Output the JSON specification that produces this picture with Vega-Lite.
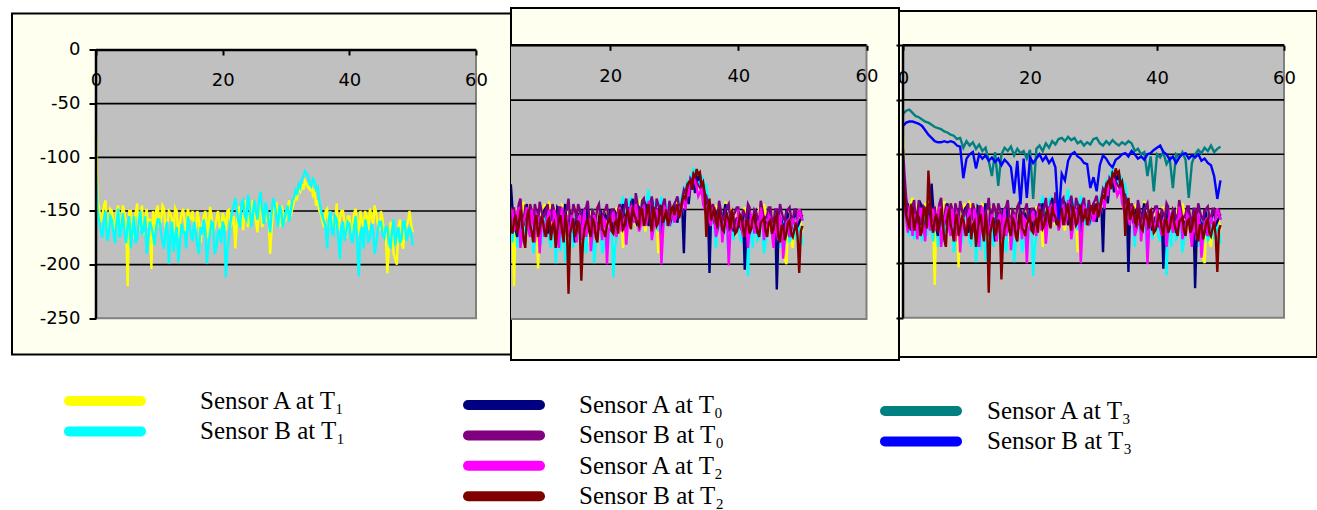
{
"$schema": "https://vega.github.io/schema/vega-lite/v6.json",
"background": "white",
"padding": {"left": 11, "top": 7, "right": 0, "bottom": 0},
"spacing": 0,
"bounds": "flush",
"center": true,
"config": {
  "view": {"fill": "#FFFFF0", "stroke": "black", "strokeWidth": 2},
  "axis": {"labelFont": "DejaVu Sans", "labelFontSize": 18, "labelColor": "black", "tickColor": "black", "tickWidth": 2, "domain": false, "grid": false, "labelFlush": false, "labelOverlap": false},
  "legend": {"symbolType": "stroke", "symbolSize": 5184, "symbolStrokeWidth": 10, "clipHeight": 24, "rowPadding": 5.4, "labelFont": "Liberation Serif", "labelFontSize": 25, "labelColor": "black", "labelLimit": 600, "padding": 0}
},
"datasets": {
  "grid": [{"g": -50}, {"g": -100}, {"g": -150}, {"g": -200}],
  "sig": [
{"x":0,"a1":-82,"b1":-116,"a0":-140,"b0":-95,"a2":-130,"b2":-125,"a3":-63,"b3":-74},
{"x":0.25,"a1":-140,"b1":-150,"a0":-152,"b0":-120,"a2":-150,"b2":-140},
{"x":0.5,"a1":-148,"b1":-160,"a0":-150,"b0":-140,"a2":-160,"b2":-155,"a3":-60,"b3":-71},
{"x":0.75,"a1":-160,"b1":-168,"a0":-145,"b0":-150,"a2":-172,"b2":-162},
{"x":1,"a1":-155,"b1":-175,"a0":-162,"b0":-155,"a2":-148,"b2":-168,"a3":-59,"b3":-70},
{"x":1.25,"a1":-145,"b1":-158,"a0":-170,"b0":-160,"a2":-155,"b2":-148},
{"x":1.5,"a1":-140,"b1":-150,"a0":-145,"b0":-148,"a2":-175,"b2":-150,"a3":-62,"b3":-70},
{"x":1.75,"a1":-165,"b1":-178,"a0":-150,"b0":-142,"a2":-160,"b2":-170},
{"x":2,"a1":-162,"b1":-172,"a0":-170,"b0":-160,"a2":-155,"b2":-162,"a3":-65,"b3":-71},
{"x":2.25,"a1":-148,"b1":-155,"a0":-162,"b0":-155,"a2":-178,"b2":-155},
{"x":2.5,"a1":-150,"b1":-158,"a0":-155,"b0":-142,"a2":-165,"b2":-158,"a3":-66,"b3":-72},
{"x":2.75,"a1":-160,"b1":-170,"a0":-145,"b0":-165,"a2":-150,"b2":-175},
{"x":3,"a1":-168,"b1":-180,"a0":-148,"b0":-158,"a2":-150,"b2":-170,"a3":-68,"b3":-74},
{"x":3.25,"a1":-150,"b1":-160,"a0":-172,"b0":-148,"a2":-168,"b2":-150},
{"x":3.5,"a1":-145,"b1":-148,"a0":-165,"b0":-150,"a2":-180,"b2":-152,"a3":-70,"b3":-78},
{"x":3.75,"a1":-170,"b1":-175,"a0":-150,"b0":-160,"a2":-155,"b2":-168},
{"x":4,"a1":-158,"b1":-165,"a0":-152,"b0":-145,"a2":-158,"b2":-115,"a3":-71,"b3":-82},
{"x":4.25,"a1":-145,"b1":-152,"a0":-160,"b0":-150,"a2":-170,"b2":-140},
{"x":4.5,"a1":-152,"b1":-170,"a0":-127,"b0":-162,"a2":-162,"b2":-165,"a3":-73,"b3":-85},
{"x":4.75,"a1":-162,"b1":-180,"a0":-148,"b0":-155,"a2":-150,"b2":-172},
{"x":5,"a1":-220,"b1":-162,"a0":-160,"b0":-148,"a2":-170,"b2":-160,"a3":-75,"b3":-88},
{"x":5.25,"a1":-150,"b1":-155,"a0":-168,"b0":-162,"a2":-165,"b2":-155},
{"x":5.5,"a1":-150,"b1":-185,"a0":-175,"b0":-155,"a2":-152,"b2":-172,"a3":-76,"b3":-89},
{"x":5.75,"a1":-175,"b1":-168,"a0":-155,"b0":-145,"a2":-148,"b2":-165},
{"x":6,"a1":-165,"b1":-155,"a0":-150,"b0":-140,"a2":-185,"b2":-150,"a3":-77,"b3":-89},
{"x":6.25,"a1":-152,"b1":-180,"a0":-165,"b0":-158,"a2":-172,"b2":-160},
{"x":6.5,"a1":-143,"b1":-176,"a0":-163,"b0":-165,"a2":-160,"b2":-178,"a3":-79,"b3":-88},
{"x":6.75,"a1":-168,"b1":-160,"a0":-150,"b0":-148,"a2":-155,"b2":-185},
{"x":7,"a1":-160,"b1":-150,"a0":-145,"b0":-150,"a2":-148,"b2":-158,"a3":-80,"b3":-89},
{"x":7.25,"a1":-145,"b1":-172,"a0":-162,"b0":-160,"a2":-168,"b2":-150},
{"x":7.5,"a1":-172,"b1":-168,"a0":-170,"b0":-145,"a2":-175,"b2":-165,"a3":-82,"b3":-88},
{"x":7.75,"a1":-158,"b1":-155,"a0":-152,"b0":-150,"a2":-150,"b2":-170},
{"x":8,"a1":-148,"b1":-190,"a0":-158,"b0":-160,"a2":-162,"b2":-180,"a3":-83,"b3":-89},
{"x":8.25,"a1":-165,"b1":-178,"a0":-170,"b0":-145,"a2":-180,"b2":-160},
{"x":8.5,"a1":-157,"b1":-160,"a0":-150,"b0":-152,"a2":-155,"b2":-155,"a3":-86,"b3":-92},
{"x":8.75,"a1":-204,"b1":-165,"a0":-155,"b0":-162,"a2":-158,"b2":-175},
{"x":9,"a1":-150,"b1":-172,"a0":-168,"b0":-143,"a2":-190,"b2":-168,"a3":-85,"b3":-93},
{"x":9.25,"a1":-170,"b1":-182,"a0":-160,"b0":-150,"a2":-165,"b2":-158},
{"x":9.5,"a1":-150,"b1":-165,"a0":-155,"b0":-158,"a2":-158,"b2":-160,"a3":-94,"b3":-122},
{"x":9.75,"a1":-145,"b1":-158,"a0":-150,"b0":-155,"a2":-175,"b2":-170},
{"x":10,"a1":-162,"b1":-158,"a0":-148,"b0":-150,"a2":-165,"b2":-175,"a3":-88,"b3":-104},
{"x":10.25,"a1":-160,"b1":-170,"a0":-172,"b0":-145,"a2":-155,"b2":-160},
{"x":10.5,"a1":-145,"b1":-178,"a0":-165,"b0":-162,"a2":-150,"b2":-158,"a3":-92,"b3":-100},
{"x":10.75,"a1":-148,"b1":-185,"a0":-150,"b0":-158,"a2":-168,"b2":-178},
{"x":11,"a1":-170,"b1":-166,"a0":-160,"b0":-145,"a2":-172,"b2":-165,"a3":-89,"b3":-98},
{"x":11.25,"a1":-165,"b1":-160,"a0":-160,"b0":-150,"a2":-150,"b2":-162},
{"x":11.5,"a1":-150,"b1":-199,"a0":-172,"b0":-155,"a2":-158,"b2":-185,"a3":-95,"b3":-113},
{"x":11.75,"a1":-152,"b1":-175,"a0":-148,"b0":-165,"a2":-172,"b2":-170},
{"x":12,"a1":-158,"b1":-160,"a0":-150,"b0":-148,"a2":-185,"b2":-160,"a3":-91,"b3":-100},
{"x":12.25,"a1":-170,"b1":-188,"a0":-165,"b0":-148,"a2":-160,"b2":-155},
{"x":12.5,"a1":-147,"b1":-175,"a0":-158,"b0":-168,"a2":-148,"b2":-170,"a3":-97,"b3":-104},
{"x":12.75,"a1":-150,"b1":-165,"a0":-155,"b0":-160,"a2":-175,"b2":-180},
{"x":13,"a1":-175,"b1":-198,"a0":-145,"b0":-152,"a2":-162,"b2":-155,"a3":-94,"b3":-101},
{"x":13.25,"a1":-162,"b1":-180,"a0":-170,"b0":-150,"a2":-155,"b2":-165},
{"x":13.5,"a1":-153,"b1":-162,"a0":-168,"b0":-140,"a2":-175,"b2":-227,"a3":-106,"b3":-106},
{"x":13.75,"a1":-148,"b1":-170,"a0":-150,"b0":-158,"a2":-168,"b2":-172},
{"x":14,"a1":-160,"b1":-170,"a0":-162,"b0":-160,"a2":-155,"b2":-165,"a3":-120,"b3":-103},
{"x":14.25,"a1":-170,"b1":-185,"a0":-165,"b0":-145,"a2":-160,"b2":-158},
{"x":14.5,"a1":-148,"b1":-155,"a0":-180,"b0":-150,"a2":-168,"b2":-175,"a3":-98,"b3":-107},
{"x":14.75,"a1":-155,"b1":-165,"a0":-158,"b0":-160,"a2":-180,"b2":-170},
{"x":15,"a1":-157,"b1":-172,"a0":-153,"b0":-145,"a2":-160,"b2":-160,"a3":-129,"b3":-104},
{"x":15.25,"a1":-150,"b1":-178,"a0":-172,"b0":-150,"a2":-155,"b2":-165},
{"x":15.5,"a1":-165,"b1":-160,"a0":-160,"b0":-158,"a2":-178,"b2":-215,"a3":-100,"b3":-110},
{"x":15.75,"a1":-168,"b1":-170,"a0":-150,"b0":-162,"a2":-165,"b2":-180},
{"x":16,"a1":-150,"b1":-183,"a0":-170,"b0":-150,"a2":-150,"b2":-168,"a3":-94,"b3":-105},
{"x":16.25,"a1":-158,"b1":-190,"a0":-160,"b0":-148,"a2":-175,"b2":-162},
{"x":16.5,"a1":-180,"b1":-165,"a0":-148,"b0":-142,"a2":-165,"b2":-158,"a3":-97,"b3":-108},
{"x":16.75,"a1":-165,"b1":-172,"a0":-170,"b0":-158,"a2":-158,"b2":-170},
{"x":17,"a1":-155,"b1":-158,"a0":-165,"b0":-165,"a2":-188,"b2":-175,"a3":-93,"b3":-112},
{"x":17.25,"a1":-150,"b1":-168,"a0":-152,"b0":-150,"a2":-172,"b2":-158},
{"x":17.5,"a1":-162,"b1":-199,"a0":-155,"b0":-155,"a2":-155,"b2":-162,"a3":-101,"b3":-136},
{"x":17.75,"a1":-175,"b1":-182,"a0":-165,"b0":-160,"a2":-160,"b2":-175},
{"x":18,"a1":-146,"b1":-170,"a0":-175,"b0":-148,"a2":-170,"b2":-180,"a3":-95,"b3":-106},
{"x":18.25,"a1":-155,"b1":-160,"a0":-158,"b0":-145,"a2":-168,"b2":-162},
{"x":18.5,"a1":-170,"b1":-162,"a0":-150,"b0":-160,"a2":-162,"b2":-155,"a3":-99,"b3":-146},
{"x":18.75,"a1":-165,"b1":-190,"a0":-170,"b0":-158,"a2":-178,"b2":-168},
{"x":19,"a1":-158,"b1":-185,"a0":-162,"b0":-152,"a2":-158,"b2":-170,"a3":-97,"b3":-104},
{"x":19.25,"a1":-150,"b1":-170,"a0":-155,"b0":-150,"a2":-160,"b2":-175},
{"x":19.5,"a1":-163,"b1":-168,"a0":-158,"b0":-145,"a2":-200,"b2":-165,"a3":-104,"b3":-140},
{"x":19.75,"a1":-172,"b1":-180,"a0":-162,"b0":-162,"a2":-170,"b2":-160},
{"x":20,"a1":-152,"b1":-160,"a0":-150,"b0":-158,"a2":-165,"b2":-158,"a3":-96,"b3":-103},
{"x":20.25,"a1":-158,"b1":-165,"a0":-170,"b0":-150,"a2":-158,"b2":-170},
{"x":20.5,"a1":-168,"b1":-212,"a0":-165,"b0":-150,"a2":-152,"b2":-172,"a3":-141,"b3":-108},
{"x":20.75,"a1":-150,"b1":-185,"a0":-152,"b0":-158,"a2":-168,"b2":-162},
{"x":21,"a1":-149,"b1":-175,"a0":-155,"b0":-165,"a2":-175,"b2":-160,"a3":-95,"b3":-104},
{"x":21.25,"a1":-165,"b1":-160,"a0":-162,"b0":-150,"a2":-155,"b2":-172},
{"x":21.5,"a1":-160,"b1":-150,"a0":-160,"b0":-145,"a2":-148,"b2":-150,"a3":-92,"b3":-100},
{"x":21.75,"a1":-155,"b1":-145,"a0":-150,"b0":-160,"a2":-170,"b2":-158},
{"x":22,"a1":-185,"b1":-138,"a0":-145,"b0":-155,"a2":-160,"b2":-168,"a3":-97,"b3":-106},
{"x":22.25,"a1":-160,"b1":-150,"a0":-165,"b0":-148,"a2":-158,"b2":-165},
{"x":22.5,"a1":-146,"b1":-160,"a0":-170,"b0":-140,"a2":-182,"b2":-155,"a3":-90,"b3":-102},
{"x":22.75,"a1":-150,"b1":-165,"a0":-148,"b0":-155,"a2":-165,"b2":-150},
{"x":23,"a1":-155,"b1":-142,"a0":-152,"b0":-160,"a2":-150,"b2":-162,"a3":-94,"b3":-108},
{"x":23.25,"a1":-168,"b1":-140,"a0":-160,"b0":-145,"a2":-148,"b2":-168},
{"x":23.5,"a1":-140,"b1":-155,"a0":-140,"b0":-148,"a2":-158,"b2":-148,"a3":-88,"b3":-104},
{"x":23.75,"a1":-148,"b1":-158,"a0":-150,"b0":-158,"a2":-162,"b2":-155},
{"x":24,"a1":-165,"b1":-135,"a0":-160,"b0":-135,"a2":-145,"b2":-158,"a3":-91,"b3":-112},
{"x":24.25,"a1":-155,"b1":-145,"a0":-165,"b0":-145,"a2":-155,"b2":-162},
{"x":24.5,"a1":-150,"b1":-165,"a0":-148,"b0":-152,"a2":-170,"b2":-165,"a3":-86,"b3":-160},
{"x":24.75,"a1":-140,"b1":-155,"a0":-150,"b0":-155,"a2":-165,"b2":-150},
{"x":25,"a1":-145,"b1":-140,"a0":-152,"b0":-142,"a2":-150,"b2":-150,"a3":-85,"b3":-118},
{"x":25.25,"a1":-160,"b1":-150,"a0":-158,"b0":-140,"a2":-148,"b2":-165},
{"x":25.5,"a1":-170,"b1":-158,"a0":-145,"b0":-155,"a2":-165,"b2":-160,"a3":-88,"b3":-124},
{"x":25.75,"a1":-150,"b1":-140,"a0":-148,"b0":-158,"a2":-160,"b2":-152},
{"x":26,"a1":-138,"b1":-132,"a0":-165,"b0":-148,"a2":-142,"b2":-145,"a3":-84,"b3":-106},
{"x":26.25,"a1":-165,"b1":-150,"a0":-160,"b0":-145,"a2":-152,"b2":-160},
{"x":26.5,"a1":-155,"b1":-162,"a0":-140,"b0":-138,"a2":-178,"b2":-170,"a3":-87,"b3":-100},
{"x":26.75,"a1":-145,"b1":-142,"a0":-150,"b0":-152,"a2":-168,"b2":-148},
{"x":27,"a1":-160,"b1":-148,"a0":-158,"b0":-160,"a2":-155,"b2":-155,"a3":-85,"b3":-98},
{"x":27.25,"a1":-155,"b1":-160,"a0":-165,"b0":-140,"a2":-150,"b2":-165},
{"x":27.5,"a1":-190,"b1":-170,"a0":-150,"b0":-145,"a2":-160,"b2":-162,"a3":-90,"b3":-102},
{"x":27.75,"a1":-165,"b1":-150,"a0":-148,"b0":-150,"a2":-158,"b2":-150},
{"x":28,"a1":-148,"b1":-138,"a0":-172,"b0":-152,"a2":-200,"b2":-148,"a3":-88,"b3":-104},
{"x":28.25,"a1":-150,"b1":-145,"a0":-160,"b0":-145,"a2":-170,"b2":-162},
{"x":28.5,"a1":-142,"b1":-155,"a0":-148,"b0":-140,"a2":-148,"b2":-158,"a3":-92,"b3":-108},
{"x":28.75,"a1":-158,"b1":-165,"a0":-152,"b0":-155,"a2":-150,"b2":-150},
{"x":29,"a1":-165,"b1":-145,"a0":-155,"b0":-158,"a2":-160,"b2":-165,"a3":-89,"b3":-109},
{"x":29.25,"a1":-145,"b1":-150,"a0":-165,"b0":-142,"a2":-165,"b2":-160},
{"x":29.5,"a1":-150,"b1":-165,"a0":-160,"b0":-150,"a2":-155,"b2":-150,"a3":-91,"b3":-131},
{"x":29.75,"a1":-160,"b1":-158,"a0":-150,"b0":-152,"a2":-150,"b2":-148},
{"x":30,"a1":-158,"b1":-150,"a0":-145,"b0":-145,"a2":-162,"b2":-155,"a3":-86,"b3":-121},
{"x":30.25,"a1":-148,"b1":-145,"a0":-158,"b0":-142,"a2":-158,"b2":-150},
{"x":30.5,"a1":-140,"b1":-160,"a0":-162,"b0":-138,"a2":-145,"b2":-145,"a3":-85,"b3":-134},
{"x":30.75,"a1":-155,"b1":-150,"a0":-145,"b0":-148,"a2":-150,"b2":-158},
{"x":31,"a1":-148,"b1":-140,"a0":-150,"b0":-150,"a2":-155,"b2":-152,"a3":-90,"b3":-110},
{"x":31.25,"a1":-142,"b1":-138,"a0":-150,"b0":-140,"a2":-145,"b2":-142},
{"x":31.5,"a1":-135,"b1":-131,"a0":-190,"b0":-132,"a2":-138,"b2":-138,"a3":-92,"b3":-101},
{"x":31.75,"a1":-138,"b1":-135,"a0":-140,"b0":-135,"a2":-150,"b2":-140},
{"x":32,"a1":-130,"b1":-125,"a0":-138,"b0":-128,"a2":-132,"b2":-130,"a3":-88,"b3":-104},
{"x":32.25,"a1":-132,"b1":-128,"a0":-145,"b0":-130,"a2":-138,"b2":-125},
{"x":32.5,"a1":-125,"b1":-120,"a0":-130,"b0":-122,"a2":-125,"b2":-124,"a3":-91,"b3":-109},
{"x":32.75,"a1":-130,"b1":-118,"a0":-128,"b0":-125,"a2":-128,"b2":-132},
{"x":33,"a1":-122,"b1":-113,"a0":-125,"b0":-118,"a2":-120,"b2":-118,"a3":-87,"b3":-112},
{"x":33.25,"a1":-125,"b1":-115,"a0":-135,"b0":-122,"a2":-125,"b2":-120},
{"x":33.5,"a1":-128,"b1":-118,"a0":-120,"b0":-125,"a2":-130,"b2":-113,"a3":-90,"b3":-105},
{"x":33.75,"a1":-130,"b1":-125,"a0":-122,"b0":-128,"a2":-138,"b2":-118},
{"x":34,"a1":-124,"b1":-127,"a0":-118,"b0":-130,"a2":-135,"b2":-116,"a3":-92,"b3":-103},
{"x":34.25,"a1":-135,"b1":-120,"a0":-130,"b0":-132,"a2":-130,"b2":-128},
{"x":34.5,"a1":-132,"b1":-122,"a0":-128,"b0":-128,"a2":-145,"b2":-125,"a3":-89,"b3":-100},
{"x":34.75,"a1":-145,"b1":-130,"a0":-138,"b0":-140,"a2":-150,"b2":-135},
{"x":35,"a1":-140,"b1":-128,"a0":-140,"b0":-138,"a2":-155,"b2":-175,"a3":-91,"b3":-99},
{"x":35.25,"a1":-150,"b1":-140,"a0":-148,"b0":-145,"a2":-145,"b2":-150},
{"x":35.5,"a1":-152,"b1":-149,"a0":-208,"b0":-150,"a2":-160,"b2":-140,"a3":-88,"b3":-102},
{"x":35.75,"a1":-160,"b1":-155,"a0":-155,"b0":-152,"a2":-165,"b2":-160},
{"x":36,"a1":-165,"b1":-160,"a0":-150,"b0":-145,"a2":-148,"b2":-155,"a3":-90,"b3":-97},
{"x":36.25,"a1":-150,"b1":-165,"a0":-162,"b0":-150,"a2":-158,"b2":-148},
{"x":36.5,"a1":-148,"b1":-185,"a0":-165,"b0":-158,"a2":-175,"b2":-162,"a3":-97,"b3":-100},
{"x":36.75,"a1":-165,"b1":-158,"a0":-150,"b0":-160,"a2":-170,"b2":-165},
{"x":37,"a1":-160,"b1":-150,"a0":-155,"b0":-142,"a2":-162,"b2":-150,"a3":-95,"b3":-104},
{"x":37.25,"a1":-155,"b1":-170,"a0":-165,"b0":-150,"a2":-155,"b2":-158},
{"x":37.5,"a1":-170,"b1":-172,"a0":-160,"b0":-160,"a2":-180,"b2":-168,"a3":-100,"b3":-102},
{"x":37.75,"a1":-160,"b1":-155,"a0":-152,"b0":-158,"a2":-165,"b2":-170},
{"x":38,"a1":-143,"b1":-158,"a0":-145,"b0":-150,"a2":-158,"b2":-158,"a3":-98,"b3":-105},
{"x":38.25,"a1":-168,"b1":-175,"a0":-165,"b0":-148,"a2":-158,"b2":-155},
{"x":38.5,"a1":-158,"b1":-195,"a0":-170,"b0":-145,"a2":-201,"b2":-160,"a3":-120,"b3":-100},
{"x":38.75,"a1":-150,"b1":-165,"a0":-155,"b0":-160,"a2":-170,"b2":-168},
{"x":39,"a1":-150,"b1":-160,"a0":-152,"b0":-165,"a2":-165,"b2":-150,"a3":-102,"b3":-99},
{"x":39.25,"a1":-162,"b1":-178,"a0":-170,"b0":-155,"a2":-155,"b2":-160},
{"x":39.5,"a1":-175,"b1":-170,"a0":-162,"b0":-152,"a2":-170,"b2":-172,"a3":-134,"b3":-96},
{"x":39.75,"a1":-155,"b1":-160,"a0":-158,"b0":-148,"a2":-168,"b2":-170},
{"x":40,"a1":-155,"b1":-162,"a0":-158,"b0":-148,"a2":-150,"b2":-165,"a3":-100,"b3":-94},
{"x":40.25,"a1":-170,"b1":-175,"a0":-165,"b0":-160,"a2":-158,"b2":-155},
{"x":40.5,"a1":-165,"b1":-180,"a0":-168,"b0":-160,"a2":-168,"b2":-158,"a3":-103,"b3":-92},
{"x":40.75,"a1":-152,"b1":-165,"a0":-155,"b0":-150,"a2":-175,"b2":-168},
{"x":41,"a1":-148,"b1":-155,"a0":-205,"b0":-155,"a2":-160,"b2":-175,"a3":-98,"b3":-98},
{"x":41.25,"a1":-160,"b1":-180,"a0":-170,"b0":-158,"a2":-160,"b2":-160},
{"x":41.5,"a1":-172,"b1":-211,"a0":-150,"b0":-145,"a2":-185,"b2":-160,"a3":-109,"b3":-100},
{"x":41.75,"a1":-150,"b1":-170,"a0":-158,"b0":-148,"a2":-170,"b2":-172},
{"x":42,"a1":-160,"b1":-165,"a0":-162,"b0":-165,"a2":-155,"b2":-168,"a3":-104,"b3":-105},
{"x":42.25,"a1":-165,"b1":-185,"a0":-165,"b0":-160,"a2":-158,"b2":-158},
{"x":42.5,"a1":-150,"b1":-158,"a0":-155,"b0":-150,"a2":-172,"b2":-155,"a3":-131,"b3":-102},
{"x":42.75,"a1":-155,"b1":-165,"a0":-152,"b0":-152,"a2":-165,"b2":-165},
{"x":43,"a1":-168,"b1":-178,"a0":-172,"b0":-158,"a2":-162,"b2":-170,"a3":-100,"b3":-108},
{"x":43.25,"a1":-148,"b1":-175,"a0":-168,"b0":-160,"a2":-172,"b2":-175},
{"x":43.5,"a1":-155,"b1":-162,"a0":-148,"b0":-142,"a2":-148,"b2":-162,"a3":-103,"b3":-103},
{"x":43.75,"a1":-162,"b1":-168,"a0":-155,"b0":-150,"a2":-158,"b2":-160},
{"x":44,"a1":-145,"b1":-190,"a0":-160,"b0":-160,"a2":-178,"b2":-158,"a3":-98,"b3":-100},
{"x":44.25,"a1":-152,"b1":-180,"a0":-162,"b0":-158,"a2":-168,"b2":-170},
{"x":44.5,"a1":-162,"b1":-168,"a0":-165,"b0":-155,"a2":-165,"b2":-175,"a3":-105,"b3":-99},
{"x":44.75,"a1":-168,"b1":-160,"a0":-150,"b0":-148,"a2":-155,"b2":-162},
{"x":45,"a1":-150,"b1":-160,"a0":-152,"b0":-148,"a2":-158,"b2":-160,"a3":-140,"b3":-104},
{"x":45.25,"a1":-158,"b1":-172,"a0":-168,"b0":-160,"a2":-172,"b2":-172},
{"x":45.5,"a1":-175,"b1":-175,"a0":-170,"b0":-162,"a2":-185,"b2":-168,"a3":-108,"b3":-101},
{"x":45.75,"a1":-170,"b1":-165,"a0":-158,"b0":-150,"a2":-160,"b2":-158},
{"x":46,"a1":-208,"b1":-165,"a0":-223,"b0":-150,"a2":-170,"b2":-155,"a3":-100,"b3":-103},
{"x":46.25,"a1":-185,"b1":-178,"a0":-175,"b0":-162,"a2":-178,"b2":-175},
{"x":46.5,"a1":-160,"b1":-185,"a0":-158,"b0":-145,"a2":-155,"b2":-180,"a3":-96,"b3":-100},
{"x":46.75,"a1":-172,"b1":-168,"a0":-160,"b0":-152,"a2":-165,"b2":-165},
{"x":47,"a1":-190,"b1":-158,"a0":-165,"b0":-158,"a2":-195,"b2":-165,"a3":-99,"b3":-106},
{"x":47.25,"a1":-195,"b1":-182,"a0":-170,"b0":-160,"a2":-175,"b2":-178},
{"x":47.5,"a1":-200,"b1":-172,"a0":-150,"b0":-152,"a2":-162,"b2":-172,"a3":-94,"b3":-104},
{"x":47.75,"a1":-165,"b1":-165,"a0":-155,"b0":-150,"a2":-160,"b2":-162},
{"x":48,"a1":-158,"b1":-180,"a0":-175,"b0":-148,"a2":-175,"b2":-160,"a3":-97,"b3":-108},
{"x":48.25,"a1":-180,"b1":-175,"a0":-168,"b0":-158,"a2":-168,"b2":-172},
{"x":48.5,"a1":-185,"b1":-160,"a0":-160,"b0":-160,"a2":-158,"b2":-175,"a3":-92,"b3":-110},
{"x":48.75,"a1":-168,"b1":-160,"a0":-155,"b0":-150,"a2":-162,"b2":-168},
{"x":49,"a1":-165,"b1":-178,"a0":-152,"b0":-150,"a2":-165,"b2":-162,"a3":-98,"b3":-120},
{"x":49.25,"a1":-160,"b1":-172,"a0":-165,"b0":-158,"a2":-158,"b2":-175},
{"x":49.5,"a1":-150,"b1":-165,"a0":-162,"b0":-155,"a2":-150,"b2":-208,"a3":-95,"b3":-141},
{"x":49.75,"a1":-162,"b1":-170,"a0":-158,"b0":-152,"a2":-155,"b2":-170},
{"x":50,"a1":-170,"b1":-182,"a0":-155,"b0":-160,"a2":-160,"b2":-165,"a3":-93,"b3":-124}
  ]
},
"resolve": {"scale": {"x": "independent", "y": "independent", "color": "independent"}, "legend": {"color": "independent"}, "axis": {"x": "independent", "y": "independent"}},
"hconcat": [
  {
    "width": 499, "height": 341,
    "layer": [
      {"data": {"values": [{}]}, "mark": {"type": "rect", "fill": "#C0C0C0", "stroke": "#808080", "strokeWidth": 2, "clip": true},
       "encoding": {"x": {"datum": 0, "type": "quantitative"}, "x2": {"datum": 60}, "y": {"datum": 0, "type": "quantitative"}, "y2": {"datum": -250}}},
      {"data": {"name": "grid"}, "mark": {"type": "rule", "color": "black", "strokeWidth": 1.7, "clip": true},
       "encoding": {"x": {"datum": 0, "type": "quantitative"}, "x2": {"datum": 60}, "y": {"field": "g", "type": "quantitative"}}},
      {"data": {"name": "sig"}, "transform": [{"fold": ["a1", "b1"], "as": ["series", "v"]}, {"filter": {"field": "v", "valid": true}}],
       "mark": {"type": "line", "strokeWidth": 2.4, "clip": true},
       "encoding": {
         "x": {"field": "x", "type": "quantitative", "scale": {"domain": [-13.263, 65.526], "nice": false, "zero": false},
               "axis": {"orient": "top", "offset": -36.5, "values": [0, 20, 40, 60], "tickSize": -5, "labelBaseline": "top", "labelPadding": -16.6, "labelExpr": "'' + datum.value", "title": null, "zindex": 1}},
         "y": {"field": "v", "type": "quantitative", "scale": {"domain": [-283.73, 34.01], "nice": false, "zero": false},
               "axis": {"orient": "left", "offset": -84, "values": [0, -50, -100, -150, -200, -250], "tickSize": 7, "labelPadding": 9, "labelExpr": "'' + datum.value", "title": null, "zindex": 1}},
         "color": {"field": "series", "type": "nominal",
                   "scale": {"domain": ["a1", "b1", "a0", "b0", "a2", "b2", "a3", "b3"], "range": ["#FFFF00", "#00FFFF", "#000080", "#800080", "#FF00FF", "#800000", "#008080", "#0000FF"]},
                   "legend": {"orient": "none", "legendX": 52, "legendY": 375.5, "values": ["a1", "b1"], "title": null, "labelOffset": 54, "labelFont": "Liberation Serif", "labelFontSize": 25,
                              "labelExpr": "datum.value == 'a1' ? 'Sensor A at T₁' : datum.value == 'b1' ? 'Sensor B at T₁' : datum.value == 'a0' ? 'Sensor A at T₀' : datum.value == 'b0' ? 'Sensor B at T₀' : datum.value == 'a2' ? 'Sensor A at T₂' : datum.value == 'b2' ? 'Sensor B at T₂' : datum.value == 'a3' ? 'Sensor A at T₃' : 'Sensor B at T₃'",
                              "encode": {"symbols": {"update": {"strokeCap": {"value": "round"}, "stroke": {"signal": "datum.value == 'a1' ? '#FFFF00' : datum.value == 'b1' ? '#66FFFF' : datum.value == 'a0' ? '#000080' : datum.value == 'b0' ? '#800080' : datum.value == 'a2' ? '#FF00FF' : datum.value == 'b2' ? '#800000' : datum.value == 'a3' ? '#339966' : '#0000FF'"}}}}}}}},
      {"data": {"values": [{}]}, "mark": {"type": "rule", "color": "black", "strokeWidth": 2.5, "clip": true},
       "encoding": {"x": {"datum": 0, "type": "quantitative"}, "x2": {"datum": 60}, "y": {"datum": 0, "type": "quantitative"}}},
      {"data": {"values": [{}]}, "mark": {"type": "rule", "color": "black", "strokeWidth": 2.5, "clip": true},
       "encoding": {"x": {"datum": 0, "type": "quantitative"}, "y": {"datum": 0, "type": "quantitative"}, "y2": {"datum": -250}}}
    ]
  },
  {
    "width": 388, "height": 352,
    "layer": [
      {"data": {"values": [{}]}, "mark": {"type": "rect", "fill": "#C0C0C0", "stroke": "#808080", "strokeWidth": 2, "clip": true},
       "encoding": {"x": {"datum": 0, "type": "quantitative"}, "x2": {"datum": 60}, "y": {"datum": 0, "type": "quantitative", "axis": null}, "y2": {"datum": -250}}},
      {"data": {"name": "grid"}, "mark": {"type": "rule", "color": "black", "strokeWidth": 1.7, "clip": true},
       "encoding": {"x": {"datum": 0, "type": "quantitative"}, "x2": {"datum": 60}, "y": {"field": "g", "type": "quantitative", "axis": null}}},
      {"data": {"name": "sig"}, "transform": [{"fold": ["a1", "b1", "a0", "b0", "a2", "b2"], "as": ["series", "v"]}, {"filter": {"field": "v", "valid": true}}],
       "mark": {"type": "line", "strokeWidth": 2.4, "clip": true},
       "encoding": {
         "x": {"field": "x", "type": "quantitative", "scale": {"domain": [4.526, 65.07], "nice": false, "zero": false},
               "axis": {"orient": "top", "offset": -37.3, "values": [20, 40, 60], "tickSize": -5, "labelBaseline": "top", "labelPadding": -16.9, "labelExpr": "'' + datum.value", "title": null, "zindex": 1}},
         "y": {"field": "v", "type": "quantitative", "scale": {"domain": [-287.45, 34.07], "nice": false, "zero": false}, "axis": null},
         "color": {"field": "series", "type": "nominal",
                   "scale": {"domain": ["a1", "b1", "a0", "b0", "a2", "b2", "a3", "b3"], "range": ["#FFFF00", "#00FFFF", "#000080", "#800080", "#FF00FF", "#800000", "#008080", "#0000FF"]},
                   "legend": {"orient": "none", "legendX": -48, "legendY": 385, "values": ["a0", "b0", "a2", "b2"], "title": null, "labelOffset": 34, "labelFont": "Liberation Serif", "labelFontSize": 25,
                              "labelExpr": "datum.value == 'a1' ? 'Sensor A at T₁' : datum.value == 'b1' ? 'Sensor B at T₁' : datum.value == 'a0' ? 'Sensor A at T₀' : datum.value == 'b0' ? 'Sensor B at T₀' : datum.value == 'a2' ? 'Sensor A at T₂' : datum.value == 'b2' ? 'Sensor B at T₂' : datum.value == 'a3' ? 'Sensor A at T₃' : 'Sensor B at T₃'",
                              "encode": {"symbols": {"update": {"strokeCap": {"value": "round"}, "stroke": {"signal": "datum.value == 'a1' ? '#FFFF00' : datum.value == 'b1' ? '#66FFFF' : datum.value == 'a0' ? '#000080' : datum.value == 'b0' ? '#800080' : datum.value == 'a2' ? '#FF00FF' : datum.value == 'b2' ? '#800000' : datum.value == 'a3' ? '#339966' : '#0000FF'"}}}}}}}},
      {"data": {"values": [{}]}, "mark": {"type": "rule", "color": "black", "strokeWidth": 2.5, "clip": true},
       "encoding": {"x": {"datum": 0, "type": "quantitative"}, "x2": {"datum": 60}, "y": {"datum": 0, "type": "quantitative", "axis": null}}}
    ]
  },
  {
    "width": 418, "height": 346,
    "layer": [
      {"data": {"values": [{}]}, "mark": {"type": "rect", "fill": "#C0C0C0", "stroke": "#808080", "strokeWidth": 2, "clip": true},
       "encoding": {"x": {"datum": 0, "type": "quantitative"}, "x2": {"datum": 60}, "y": {"datum": 0, "type": "quantitative"}, "y2": {"datum": -250}}},
      {"data": {"name": "grid"}, "mark": {"type": "rule", "color": "black", "strokeWidth": 1.7, "clip": true},
       "encoding": {"x": {"datum": 0, "type": "quantitative"}, "x2": {"datum": 60}, "y": {"field": "g", "type": "quantitative"}}},
      {"data": {"name": "sig"}, "transform": [{"fold": ["a1", "b1", "a0", "b0", "a2", "b2", "a3", "b3"], "as": ["series", "v"]}, {"filter": {"field": "v", "valid": true}}],
       "mark": {"type": "line", "strokeWidth": 2.4, "clip": true},
       "encoding": {
         "x": {"field": "x", "type": "quantitative", "scale": {"domain": [-0.63, 65.197], "nice": false, "zero": false},
               "axis": {"orient": "top", "offset": -34.3, "values": [0, 20, 40, 60], "tickSize": -5, "labelBaseline": "top", "labelPadding": -19, "labelExpr": "'' + datum.value", "title": null, "zindex": 1}},
         "y": {"field": "v", "type": "quantitative", "scale": {"domain": [-286.07, 31.48], "nice": false, "zero": false},
               "axis": {"orient": "left", "offset": -4, "values": [0, -50, -100, -150, -200, -250], "tickSize": 7, "labels": false, "title": null, "zindex": 1}},
         "color": {"field": "series", "type": "nominal",
                   "scale": {"domain": ["a1", "b1", "a0", "b0", "a2", "b2", "a3", "b3"], "range": ["#FFFF00", "#00FFFF", "#000080", "#800080", "#FF00FF", "#800000", "#008080", "#0000FF"]},
                   "legend": {"orient": "none", "legendX": -19, "legendY": 388, "values": ["a3", "b3"], "title": null, "labelOffset": 25, "labelFont": "Liberation Serif", "labelFontSize": 25,
                              "labelExpr": "datum.value == 'a1' ? 'Sensor A at T₁' : datum.value == 'b1' ? 'Sensor B at T₁' : datum.value == 'a0' ? 'Sensor A at T₀' : datum.value == 'b0' ? 'Sensor B at T₀' : datum.value == 'a2' ? 'Sensor A at T₂' : datum.value == 'b2' ? 'Sensor B at T₂' : datum.value == 'a3' ? 'Sensor A at T₃' : 'Sensor B at T₃'",
                              "encode": {"symbols": {"update": {"strokeCap": {"value": "round"}, "stroke": {"signal": "datum.value == 'a1' ? '#FFFF00' : datum.value == 'b1' ? '#66FFFF' : datum.value == 'a0' ? '#000080' : datum.value == 'b0' ? '#800080' : datum.value == 'a2' ? '#FF00FF' : datum.value == 'b2' ? '#800000' : datum.value == 'a3' ? '#339966' : '#0000FF'"}}}}}}}},
      {"data": {"values": [{}]}, "mark": {"type": "rule", "color": "black", "strokeWidth": 2.5, "clip": true},
       "encoding": {"x": {"datum": 0, "type": "quantitative"}, "x2": {"datum": 60}, "y": {"datum": 0, "type": "quantitative"}}},
      {"data": {"values": [{}]}, "mark": {"type": "rule", "color": "black", "strokeWidth": 2.5, "clip": true},
       "encoding": {"x": {"datum": 0, "type": "quantitative"}, "y": {"datum": 0, "type": "quantitative"}, "y2": {"datum": -250}}}
    ]
  }
]
}
